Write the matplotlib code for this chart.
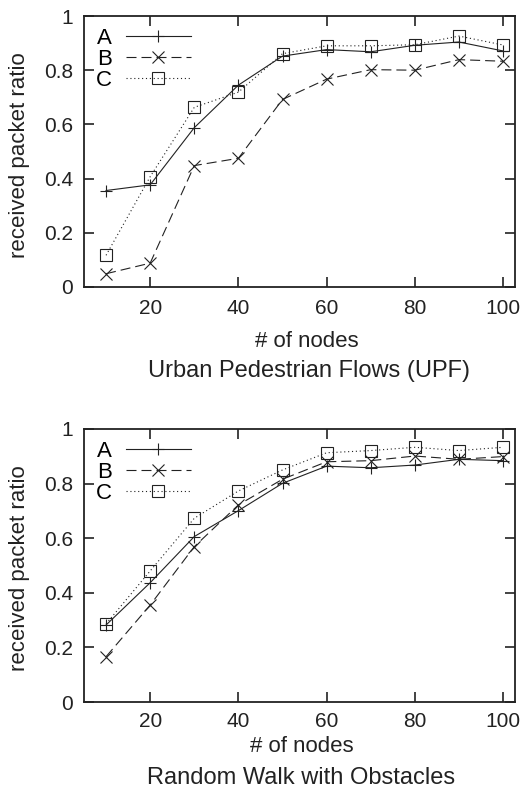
import matplotlib
matplotlib.use("Agg")
import matplotlib.pyplot as plt

plt.rcParams["font.family"] = ["Liberation Sans", "DejaVu Sans"]

nodes = [10, 20, 30, 40, 50, 60, 70, 80, 90, 100]

# Urban Pedestrian Flows (UPF)
upf_a = [0.356, 0.377, 0.588, 0.745, 0.852, 0.876, 0.868, 0.892, 0.904, 0.871]
upf_b = [0.049, 0.088, 0.448, 0.475, 0.692, 0.767, 0.802, 0.800, 0.839, 0.833]
upf_c = [0.117, 0.407, 0.663, 0.719, 0.861, 0.890, 0.890, 0.894, 0.926, 0.893]

# Random Walk with Obstacles
rwo_a = [0.282, 0.437, 0.606, 0.701, 0.801, 0.864, 0.858, 0.868, 0.889, 0.884]
rwo_b = [0.166, 0.355, 0.569, 0.722, 0.816, 0.880, 0.884, 0.901, 0.889, 0.899]
rwo_c = [0.286, 0.480, 0.673, 0.773, 0.850, 0.913, 0.921, 0.933, 0.921, 0.933]

labels = ["A", "B", "C"]
titles = ["Urban Pedestrian Flows (UPF)", "Random Walk with Obstacles"]
yticks = [0, 0.2, 0.4, 0.6, 0.8, 1]
yticklabels = ["0", "0.2", "0.4", "0.6", "0.8", "1"]
xticks = [20, 40, 60, 80, 100]

W, H = 526, 789
INK = "#222222"

styles = [
    dict(linestyle="-", marker="+", markersize=8),
    dict(linestyle=(0, (9, 4.5)), marker="x", markersize=8),
    dict(linestyle=(0, (1, 2.5)), marker="s", markersize=8.5, markerfacecolor="none"),
]

fig = plt.figure(figsize=(W / 100, H / 100), dpi=100)

# per panel: axes box (left, top, right, bottom in px), tick pad,
# ylabel centre, xlabel centre, title centre
panels = [
    dict(box=(84, 16, 515, 287), pad=9, ylc=(20, 155),
         xlc=(307, 342), tc=(309, 371), data=(upf_a, upf_b, upf_c), title=titles[0]),
    dict(box=(84, 429, 515, 702), pad=7, ylc=(20, 568),
         xlc=(302, 746), tc=(301, 778), data=(rwo_a, rwo_b, rwo_c), title=titles[1]),
]

for p in panels:
    l, t, r, b = p["box"]
    ax = fig.add_axes([l / W, 1 - b / H, (r - l) / W, (b - t) / H])
    for ys, lab, st in zip(p["data"], labels, styles):
        ax.plot(nodes, ys, color=INK, linewidth=0.8,
                markeredgewidth=0.8, label=lab, **st)
    ax.set_xlim(5, 102.7)
    ax.set_ylim(0, 1)
    ax.set_xticks(xticks)
    ax.set_yticks(yticks)
    ax.set_yticklabels(yticklabels)
    ax.tick_params(direction="in", length=7, width=1.2, top=True, right=True,
                   labelsize=15, colors=INK)
    ax.tick_params(axis="x", pad=p["pad"])
    ax.tick_params(axis="y", pad=8)
    for sp in ax.spines.values():
        sp.set_linewidth(1.3)
        sp.set_color(INK)
    fig.text(p["ylc"][0] / W, 1 - p["ylc"][1] / H, "received packet ratio",
             rotation=90, ha="center", va="center", fontsize=16, color=INK)
    fig.text(p["xlc"][0] / W, 1 - p["xlc"][1] / H, "# of nodes",
             ha="center", va="center", fontsize=16, color=INK)
    fig.text(p["tc"][0] / W, 1 - p["tc"][1] / H, p["title"],
             ha="center", va="center", fontsize=17, color=INK)
    ax.legend(loc="upper left", frameon=False, markerfirst=False,
              fontsize=16, handlelength=2.9, handletextpad=0.65,
              labelspacing=0.0, borderaxespad=0.28, borderpad=0.25)

fig.savefig("out.png", dpi=100)
